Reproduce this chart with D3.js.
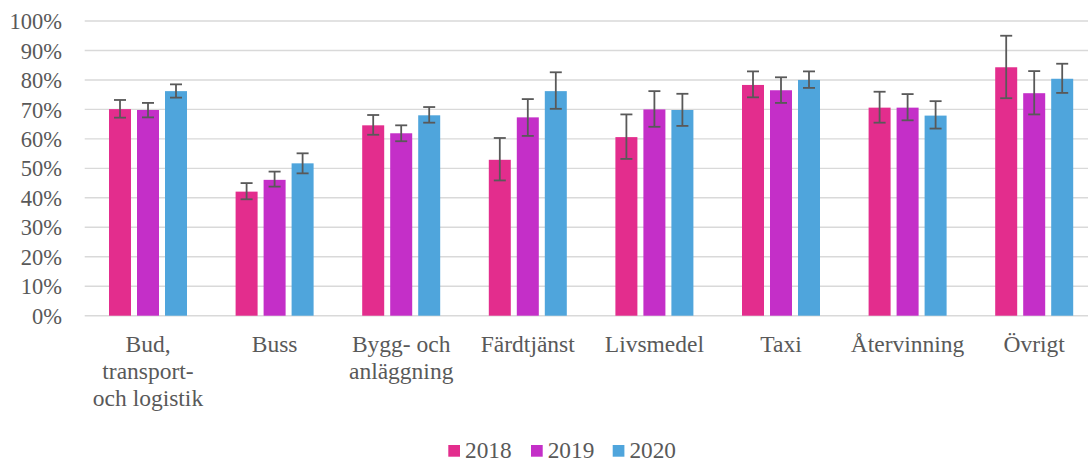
<!DOCTYPE html>
<html>
<head>
<meta charset="utf-8">
<script src="https://cdn.jsdelivr.net/npm/d3@7"></script>
<style>
  html, body { margin: 0; padding: 0; background: #fff; }
  svg { display: block; }
  text { font-family: "Liberation Serif", "Times New Roman", serif; fill: #595959; }
</style>
</head>
<body>
<svg id="chart" width="1088" height="462"></svg>
<script>
// ---- Data ----
const categories = ["Bud, transport- och logistik", "Buss", "Bygg- och anläggning", "Färdtjänst", "Livsmedel", "Taxi", "Återvinning", "Övrigt"];
const categoryLines = [["Bud,", "transport-", "och logistik"], ["Buss"], ["Bygg- och", "anläggning"], ["Färdtjänst"], ["Livsmedel"], ["Taxi"], ["Återvinning"], ["Övrigt"]];
const series = ["2018", "2019", "2020"];
const values2018 = [70.1, 42.1, 64.6, 52.9, 60.6, 78.3, 70.6, 84.3];
const values2019 = [69.8, 46.1, 61.9, 67.3, 70.0, 76.5, 70.6, 75.5];
const values2020 = [76.2, 51.7, 68.0, 76.2, 69.8, 80.0, 67.9, 80.4];
const low2018 = [67.2, 39.5, 61.4, 45.9, 53.2, 74.1, 65.5, 73.8];
const high2018 = [73.2, 45.0, 68.1, 60.3, 68.3, 82.9, 76.0, 95.0];
const low2019 = [67.3, 43.8, 59.2, 61.0, 64.1, 72.2, 66.3, 68.3];
const high2019 = [72.2, 48.9, 64.6, 73.5, 76.2, 80.9, 75.2, 83.0];
const low2020 = [74.0, 48.3, 65.5, 70.2, 64.4, 77.3, 63.5, 75.6];
const high2020 = [78.5, 55.1, 70.8, 82.6, 75.3, 82.9, 72.8, 85.5];
const yTicks = [0, 10, 20, 30, 40, 50, 60, 70, 80, 90, 100];
const colors = ["#E32D8D", "#C42FC8", "#4FA5DC"];

const seriesData = [
  { name: series[0], values: values2018, low: low2018, high: high2018 },
  { name: series[1], values: values2019, low: low2019, high: high2019 },
  { name: series[2], values: values2020, low: low2020, high: high2020 }
];

// ---- Layout ----
const svg = d3.select("#chart");
const W = 1088;
const plotLeft = 84.7, step = 126.6;
const plotTop = 21, plotBottom = 315.7;

const x = d3.scaleBand().domain(categories).range([plotLeft, plotLeft + step * categories.length]).padding(0);
const xSub = d3.scaleBand().domain(series).range([0, x.bandwidth()])
  .paddingInner(6 / 28).paddingOuter((x.bandwidth() / 28 - 3 + 6 / 28) / 2);
const y = d3.scaleLinear().domain([0, 100]).range([plotBottom, plotTop]);
const color = d3.scaleOrdinal().domain(series).range(colors);

// gridlines
svg.append("g").selectAll("line").data(yTicks).join("line")
  .attr("x1", plotLeft).attr("x2", W)
  .attr("y1", d => y(d)).attr("y2", d => y(d))
  .attr("stroke", "#d9d9d9").attr("stroke-width", 1.4);

// y tick labels
svg.append("g").selectAll("text").data(yTicks).join("text")
  .attr("x", 62).attr("y", d => y(d)).attr("dy", "0.36em")
  .attr("text-anchor", "end").attr("font-size", 22.5)
  .text(d => d + "%");

// bars
const groups = svg.append("g").selectAll("g").data(seriesData).join("g");
groups.selectAll("rect").data(s => s.values.map((v, i) => ({ s: s.name, cat: categories[i], v }))).join("rect")
  .attr("x", d => x(d.cat) + xSub(d.s))
  .attr("width", xSub.bandwidth())
  .attr("y", d => y(d.v))
  .attr("height", d => y(0) - y(d.v))
  .attr("fill", d => color(d.s));

// error bars
const ebColor = "#595959";
const capW = 12;
const eg = svg.append("g");
seriesData.forEach(s => {
  s.values.forEach((v, i) => {
    const cx = x(categories[i]) + xSub(s.name) + xSub.bandwidth() / 2;
    eg.append("line").attr("x1", cx).attr("x2", cx)
      .attr("y1", y(s.low[i])).attr("y2", y(s.high[i]))
      .attr("stroke", ebColor).attr("stroke-width", 1.8);
    [s.low[i], s.high[i]].forEach(e => {
      eg.append("line").attr("x1", cx - capW / 2).attr("x2", cx + capW / 2)
        .attr("y1", y(e)).attr("y2", y(e))
        .attr("stroke", ebColor).attr("stroke-width", 1.8);
    });
  });
});

// category labels
const lab = svg.append("g").selectAll("text").data(categories).join("text")
  .attr("text-anchor", "middle").attr("font-size", 23.5)
  .attr("x", d => x(d) + x.bandwidth() / 2)
  .attr("y", 351.7);
lab.each(function(d, i) {
  const t = d3.select(this);
  categoryLines[i].forEach((ln, j) => {
    t.append("tspan").attr("x", x(d) + x.bandwidth() / 2).attr("y", 351.7 + j * 27).text(ln);
  });
});

// legend
const legendX = [448.3, 531, 612.7];
const lg = svg.append("g").selectAll("g").data(series).join("g")
  .attr("transform", (d, i) => `translate(${legendX[i]},0)`);
lg.append("rect").attr("x", 0).attr("y", 445).attr("width", 11.7).attr("height", 11.7)
  .attr("fill", d => color(d));
lg.append("text").attr("x", 16.7).attr("y", 457.7).attr("font-size", 23.3).text(d => d);
</script>
</body>
</html>
